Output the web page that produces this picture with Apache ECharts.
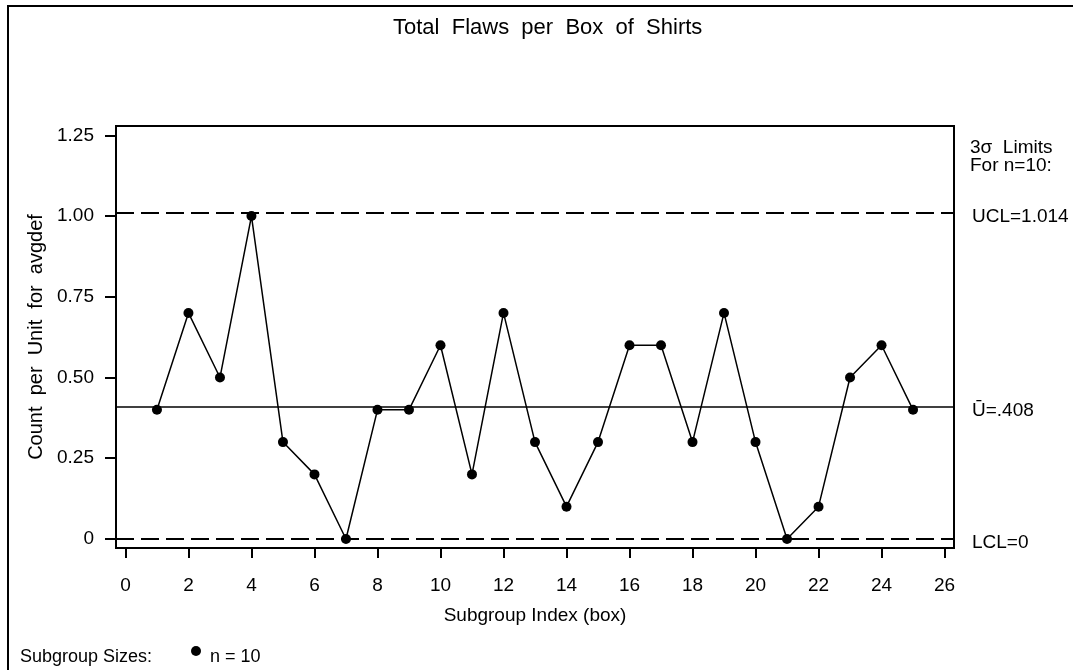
<!DOCTYPE html>
<html>
<head>
<meta charset="utf-8">
<script src="https://cdn.jsdelivr.net/npm/echarts@6/dist/echarts.min.js"></script>
<style>html,body{margin:0;padding:0;background:#fff;}#c{width:1073px;height:670px;}</style>
</head>
<body>
<div id="c"></div>
<script>
const subgroups = [1,2,3,4,5,6,7,8,9,10,11,12,13,14,15,16,17,18,19,20,21,22,23,24,25];
const avgdef = [0.4,0.7,0.5,1.0,0.3,0.2,0.0,0.4,0.4,0.6,0.2,0.7,0.3,0.1,0.3,0.6,0.6,0.3,0.7,0.3,0.0,0.1,0.5,0.6,0.4];
const xTicks = [0,2,4,6,8,10,12,14,16,18,20,22,24,26];
const yTicks = [0,0.25,0.5,0.75,1.0,1.25];
const UCL = 1.014;
const CENTER = 0.408;
const LCL = 0;

const FONT = 'Liberation Sans, Arial, Helvetica, sans-serif';
const chart = echarts.init(document.getElementById('c'));
const points = subgroups.map((x, i) => [x, avgdef[i]]);

chart.setOption({
  animation: false,
  backgroundColor: '#fff',
  textStyle: { fontFamily: FONT, color: '#000' },
  title: {
    text: 'Total  Flaws  per  Box  of  Shirts',
    left: 388, top: 12,
    textStyle: { fontFamily: FONT, fontSize: 22, fontWeight: 'normal', color: '#000' }
  },
  grid: {
    left: 116, top: 126, width: 838, height: 422,
    show: true, borderColor: '#000', borderWidth: 2, backgroundColor: 'transparent'
  },
  xAxis: {
    type: 'value', min: -0.3, max: 26.3,
    name: 'Subgroup Index (box)', nameLocation: 'middle', nameGap: 58,
    nameTextStyle: { fontFamily: FONT, fontSize: 19, color: '#000' },
    axisLine: { show: true, onZero: false, lineStyle: { color: '#000', width: 2 } },
    splitLine: { show: false },
    axisTick: { show: true, inside: false, length: 10, customValues: xTicks, lineStyle: { color: '#000', width: 2 } },
    axisLabel: { customValues: xTicks, margin: 28, fontFamily: FONT, fontSize: 19, color: '#000' }
  },
  yAxis: {
    type: 'value', min: -0.028, max: 1.279,
    name: 'Count  per  Unit  for  avgdef', nameLocation: 'middle', nameGap: 66,
    nameTextStyle: { fontFamily: FONT, fontSize: 20, color: '#000' },
    axisLine: { show: true, onZero: false, lineStyle: { color: '#000', width: 2 } },
    splitLine: { show: false },
    axisTick: { show: true, inside: false, length: 11, customValues: yTicks, lineStyle: { color: '#000', width: 2 } },
    axisLabel: {
      customValues: yTicks, margin: 22, fontFamily: FONT, fontSize: 19, color: '#000',
      padding: [4, 0, 0, 0],
      formatter: v => (v === 0 ? '0' : v.toFixed(2))
    }
  },
  legend: {
    show: true, left: 186, top: 641, itemWidth: 10, itemHeight: 10, icon: 'circle', itemGap: 0,
    data: ['n=10'],
    formatter: () => '{t|n = 10}',
    textStyle: {
      fontFamily: FONT, fontSize: 18, color: '#000',
      rich: { t: { fontFamily: FONT, fontSize: 18, color: '#000', padding: [13, 0, 0, 4] } }
    }
  },
  series: [{
    name: 'n=10',
    type: 'line',
    data: points,
    symbol: 'circle', symbolSize: 10,
    itemStyle: { color: '#000' },
    lineStyle: { color: '#000', width: 1.5 },
    markLine: {
      silent: true, symbol: 'none', animation: false,
      label: { show: true, position: 'end', distance: 18, offset: [0, 4], fontFamily: FONT, fontSize: 19, color: '#000' },
      data: [
        { yAxis: UCL, label: { formatter: 'UCL=1.014' }, lineStyle: { type: [18, 7], color: '#000', width: 2 } },
        { yAxis: CENTER, label: { formatter: 'Ū=.408' }, lineStyle: { type: 'solid', color: '#000', width: 1.5 } },
        { yAxis: LCL, label: { formatter: 'LCL=0' }, lineStyle: { type: [18, 7], color: '#000', width: 2 } }
      ]
    }
  }],
  graphic: [
    { type: 'rect', shape: { x: 8, y: 6, width: 1100, height: 700 }, style: { fill: 'none', stroke: '#000', lineWidth: 2 }, silent: true },
    { type: 'text', left: 970, top: 138, style: { text: '3σ  Limits', font: '19px ' + FONT, fill: '#000' } },
    { type: 'text', left: 970, top: 156, style: { text: 'For n=10:', font: '19px ' + FONT, fill: '#000' } },
    { type: 'text', left: 20, top: 648, style: { text: 'Subgroup Sizes:', font: '18px ' + FONT, fill: '#000' } }
  ]
});
</script>
</body>
</html>
